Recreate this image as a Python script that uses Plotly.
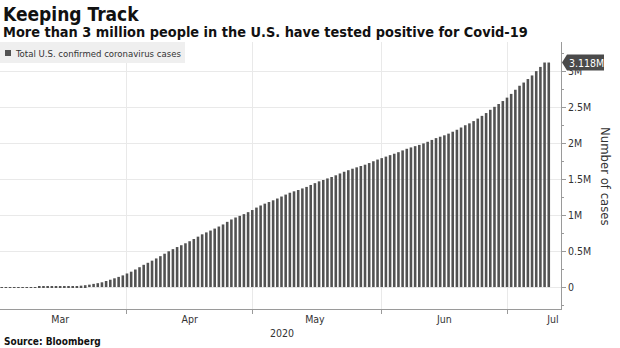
import pandas as pd
import plotly.graph_objects as go

# Daily cumulative confirmed Covid-19 cases in the U.S.
dates = pd.date_range("2020-03-01", "2020-07-11", freq="D")
cases = [
    # March
    70, 74, 98, 118, 149, 217, 262, 402, 518, 583,
    959, 1281, 1663, 2179, 2727, 3499, 4632, 6421, 7786, 13680,
    19101, 25493, 33276, 43847, 53740, 65778, 83836, 101657, 121465, 140909,
    161831,
    # April
    188172, 213242, 243622, 275367, 308650, 336802, 366317, 397121, 428654, 462780,
    496535, 526396, 555313, 580619, 607670, 636350, 667592, 699706, 732197, 758809,
    784326, 811865, 840351, 869170, 905358, 938154, 965785, 988197, 1012582, 1039909,
    # May
    1069424, 1103461, 1132539, 1158040, 1180375, 1204351, 1229331, 1257023, 1283929, 1309550,
    1329260, 1347881, 1369376, 1390406, 1417774, 1442824, 1467820, 1486757, 1508308, 1528568,
    1551853, 1577140, 1600937, 1622612, 1643246, 1662302, 1680913, 1699176, 1721753, 1747087,
    1770384,
    # June
    1790191, 1811277, 1831821, 1851520, 1872660, 1897380, 1920061, 1938823, 1956421, 1973797,
    1994283, 2017121, 2042970, 2068268, 2087646, 2107134, 2130510, 2157167, 2184186, 2215476,
    2247038, 2272770, 2304731, 2339232, 2376983, 2416196, 2461567, 2502609, 2542089, 2583060,
    # July
    2630398, 2682269, 2739877, 2795361, 2839917, 2888658, 2938624, 2998290, 3056987, 3118000,
    3118000,
]

month_label_dates = ["2020-03-16", "2020-04-16", "2020-05-16", "2020-06-16", "2020-07-12"]
month_labels = ["Mar", "Apr", "May", "Jun", "Jul"]
month_starts = ["2020-04-01", "2020-05-01", "2020-06-01", "2020-07-01"]
year_label = "2020"

y_tick_values = [0, 500000, 1000000, 1500000, 2000000, 2500000, 3000000]
y_tick_labels = ["0", "0.5M", "1M", "1.5M", "2M", "2.5M", "3M"]

series_name = "Total U.S. confirmed coronavirus cases"
latest_value = cases[-1]
latest_text = f"{latest_value / 1e6:.3f}M"

title_text = "Keeping Track"
subtitle_text = "More than 3 million people in the U.S. have tested positive for Covid-19"
source_text = "Source: Bloomberg"
y_title = "Number of cases"

# Page / plot geometry (pixels)
W, H = 620, 348
PLOT_L, PLOT_R, PLOT_T, PLOT_B = 0, 561, 42, 309
PW, PH = PLOT_R - PLOT_L, PLOT_B - PLOT_T


def px(x):
    return (x - PLOT_L) / PW


def py(y):
    return (PLOT_B - y) / PH


FONT = "DejaVu Sans Condensed, DejaVu Sans, sans-serif"
TEXT = "#333333"
GRID = "#e9e9e9"
AXIS = "#9a9a9a"
BAR = "#525252"

fig = go.Figure()
fig.add_trace(go.Bar(
    x=dates, y=cases, name=series_name,
    width=0.62 * 86400000,
    marker=dict(color=BAR, line=dict(width=0)),
    showlegend=False,
))

fig.update_layout(
    width=W, height=H,
    margin=dict(l=PLOT_L, r=W - PLOT_R, t=PLOT_T, b=H - PLOT_B, pad=0),
    paper_bgcolor="white", plot_bgcolor="white",
    font=dict(family=FONT, color=TEXT, size=10),
    xaxis=dict(
        type="date",
        range=["2020-03-01 14:10", "2020-07-13 22:20"],
        tickmode="array", tickvals=month_label_dates, ticktext=month_labels,
        ticks="", showgrid=False, zeroline=False,
        showline=True, linecolor=AXIS, linewidth=1,
        tickfont=dict(family=FONT, size=10.5, color=TEXT),
        minor=dict(tickmode="array", tickvals=month_starts, ticks="outside",
                   ticklen=4, tickcolor=AXIS, showgrid=True, gridcolor=GRID, gridwidth=1),
    ),
    yaxis=dict(
        side="right",
        range=[-305000, 3403000],
        tickmode="array", tickvals=y_tick_values, ticktext=y_tick_labels,
        ticks="outside", ticklen=4, tickcolor=AXIS,
        showgrid=True, gridcolor=GRID, gridwidth=1, zeroline=False,
        showline=True, linecolor=AXIS, linewidth=1,
        tickfont=dict(family=FONT, size=10.5, color=TEXT),
        minor=dict(tick0=0, dtick=250000, ticks="outside", ticklen=2,
                   tickcolor=AXIS, showgrid=False),
    ),
)

shapes = [
    # legend panel
    dict(type="rect", xref="paper", yref="paper", layer="above",
         x0=px(0), x1=px(185), y0=py(63), y1=py(42),
         fillcolor="#efefef", line=dict(width=0)),
    dict(type="rect", xref="paper", yref="paper", layer="above",
         x0=px(5), x1=px(11), y0=py(56), y1=py(50),
         fillcolor=BAR, line=dict(width=0)),
    # latest-value flag pointing at the axis
    dict(type="path", xref="paper", yref="y", layer="above",
         xsizemode="pixel", ysizemode="pixel", xanchor=1, yanchor=latest_value,
         path="M 1 0 L 6 -8 L 43 -8 L 43 8 L 6 8 Z",
         fillcolor="#4a4a4a", line=dict(width=0)),
]

annotations = [
    dict(text=f"<b>{title_text}</b>", xref="paper", yref="paper",
         x=px(1), y=py(14), xanchor="left", yanchor="middle", showarrow=False,
         font=dict(family=FONT, size=19, color="#111111")),
    dict(text=f"<b>{subtitle_text}</b>", xref="paper", yref="paper",
         x=px(1), y=py(32), xanchor="left", yanchor="middle", showarrow=False,
         font=dict(family=FONT, size=14.4, color="#111111")),
    dict(text=series_name, xref="paper", yref="paper",
         x=px(13), y=py(53), xanchor="left", yanchor="middle", showarrow=False,
         font=dict(family=FONT, size=9.5, color=TEXT)),
    dict(text=latest_text, xref="paper", yref="y",
         x=1, xshift=6, y=latest_value, xanchor="left", yanchor="middle",
         showarrow=False, font=dict(family=FONT, size=10.5, color="white")),
    dict(text=y_title, xref="paper", yref="paper", textangle=90,
         x=px(606), y=py(176), xanchor="center", yanchor="middle", showarrow=False,
         font=dict(family=FONT, size=13, color=TEXT)),
    dict(text=year_label, xref="paper", yref="paper",
         x=px(282), y=py(333), xanchor="center", yanchor="middle", showarrow=False,
         font=dict(family=FONT, size=10.5, color=TEXT)),
    dict(text=f"<b>{source_text}</b>", xref="paper", yref="paper",
         x=px(2), y=py(341), xanchor="left", yanchor="middle", showarrow=False,
         font=dict(family=FONT, size=10, color="#111111")),
]

fig.update_layout(shapes=shapes, annotations=annotations)
fig.write_html("out.html")
